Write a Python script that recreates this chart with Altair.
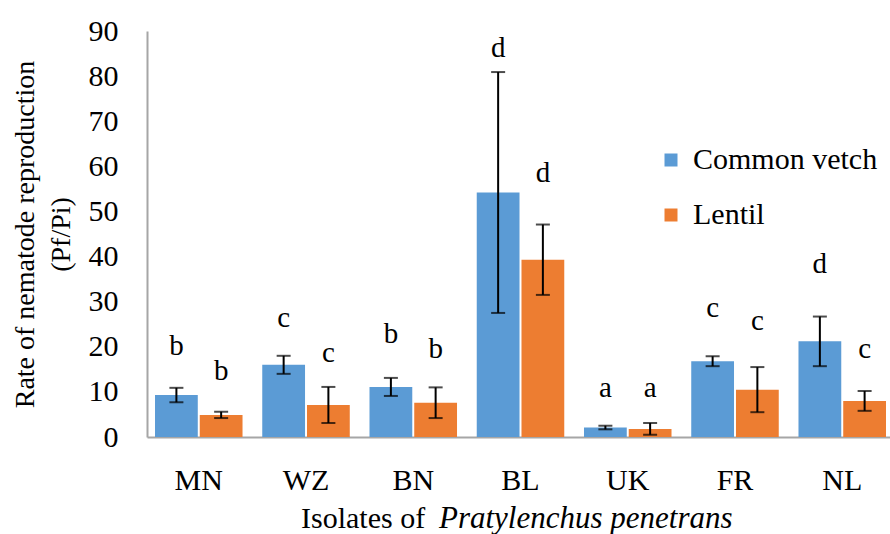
import altair as alt
import pandas as pd

isolates = ["MN", "WZ", "BN", "BL", "UK", "FR", "NL"]
series = ["Common vetch", "Lentil"]

vetch = [9.3, 16.0, 11.1, 54.2, 2.1, 16.8, 21.2]
vetch_err = [1.6, 2.0, 2.0, 26.7, 0.4, 1.1, 5.5]
lentil = [4.9, 7.1, 7.6, 39.3, 1.8, 10.5, 8.0]
lentil_err = [0.7, 4.0, 3.4, 7.8, 1.3, 5.0, 2.2]

vetch_letters = ["b", "c", "b", "d", "a", "c", "d"]
lentil_letters = ["b", "c", "b", "d", "a", "c", "c"]
vetch_letter_y = [18.2, 24.4, 20.8, 84.2, 8.9, 26.6, 36.4]
lentil_letter_y = [12.6, 16.6, 17.5, 56.5, 8.9, 23.7, 17.5]

rows = []
for i, iso in enumerate(isolates):
    rows.append(dict(isolate=iso, series=series[0], value=vetch[i],
                     lo=vetch[i] - vetch_err[i], hi=vetch[i] + vetch_err[i],
                     letter=vetch_letters[i], ly=vetch_letter_y[i]))
    rows.append(dict(isolate=iso, series=series[1], value=lentil[i],
                     lo=lentil[i] - lentil_err[i], hi=lentil[i] + lentil_err[i],
                     letter=lentil_letters[i], ly=lentil_letter_y[i]))
df = pd.DataFrame(rows)

FONT = "Liberation Serif"
ytitle = ["Rate of nematode reproduction", "(Pf/Pi)"]

xscale = alt.Scale(paddingInner=0.184, paddingOuter=0.056, align=0.667)
xaxis = alt.Axis(title=None, labelAngle=0, labelPadding=28, labelFontSize=30)
yscale = alt.Scale(domain=[0, 90], nice=False, zero=True)
yaxis = alt.Axis(values=list(range(0, 91, 10)), labelPadding=29, labelFontSize=30,
                 titlePadding=13, titleFontSize=28, titleLineHeight=36)


def X():
    return alt.X("isolate:N", sort=isolates, scale=xscale, axis=xaxis, title=None)


def XO():
    return alt.XOffset("series:N", sort=series,
                       scale=alt.Scale(paddingInner=0.044, paddingOuter=0))


def Y(field):
    return alt.Y(field, type="quantitative", scale=yscale, axis=yaxis, title=ytitle)


base = alt.Chart(df)

bars = base.mark_bar().encode(
    x=X(), xOffset=XO(), y=Y("value"),
    color=alt.Color("series:N", sort=series,
                    scale=alt.Scale(domain=series, range=["#5B9BD5", "#ED7D31"]),
                    legend=alt.Legend(title=None, orient="none", legendX=509, legendY=114,
                                      symbolType="square", symbolSize=169,
                                      symbolStrokeWidth=0, labelFont=FONT,
                                      labelFontSize=30, labelColor="black",
                                      labelLimit=400,
                                      labelOffset=7, rowPadding=25, padding=0)),
)

rules = base.mark_rule(color="black", strokeWidth=2).encode(
    x=X(), xOffset=XO(), y=Y("lo"), y2="hi:Q")
cap_hi = base.mark_tick(color="black", thickness=2, size=14).encode(
    x=X(), xOffset=XO(), y=Y("hi"))
cap_lo = base.mark_tick(color="black", thickness=2, size=14).encode(
    x=X(), xOffset=XO(), y=Y("lo"))

letters = base.mark_text(font=FONT, fontSize=29, baseline="alphabetic",
                         align="center", color="black").encode(
    x=X(), xOffset=XO(), y=Y("ly"), text="letter:N")

t1 = alt.Chart(pd.DataFrame({"t": ["Isolates of"]})).mark_text(
    font=FONT, fontSize=30, align="left", baseline="alphabetic", color="black"
).encode(text="t:N", x=alt.value(154), y=alt.value(497))
t2 = alt.Chart(pd.DataFrame({"t": ["Pratylenchus penetrans"]})).mark_text(
    font=FONT, fontSize=31, fontStyle="italic", align="left",
    baseline="alphabetic", color="black"
).encode(text="t:N", x=alt.value(292), y=alt.value(497))

chart = alt.layer(bars, rules, cap_hi, cap_lo, letters, t1, t2).properties(
    width=743, height=406,
    autosize=alt.AutoSizeParams(type="none"),
    padding={"left": 147, "top": 31, "right": 0, "bottom": 97},
).configure_view(stroke=None).configure_axis(
    labelFont=FONT, titleFont=FONT, labelColor="black", titleColor="black",
    titleFontWeight="normal", domainColor="#A6A6A6", domainWidth=2,
    ticks=False, tickSize=0, grid=False,
).configure_legend(labelFont=FONT, titleFont=FONT).configure_text(font=FONT)

chart.save("out.html", embed_options={"renderer": "svg", "actions": False})
